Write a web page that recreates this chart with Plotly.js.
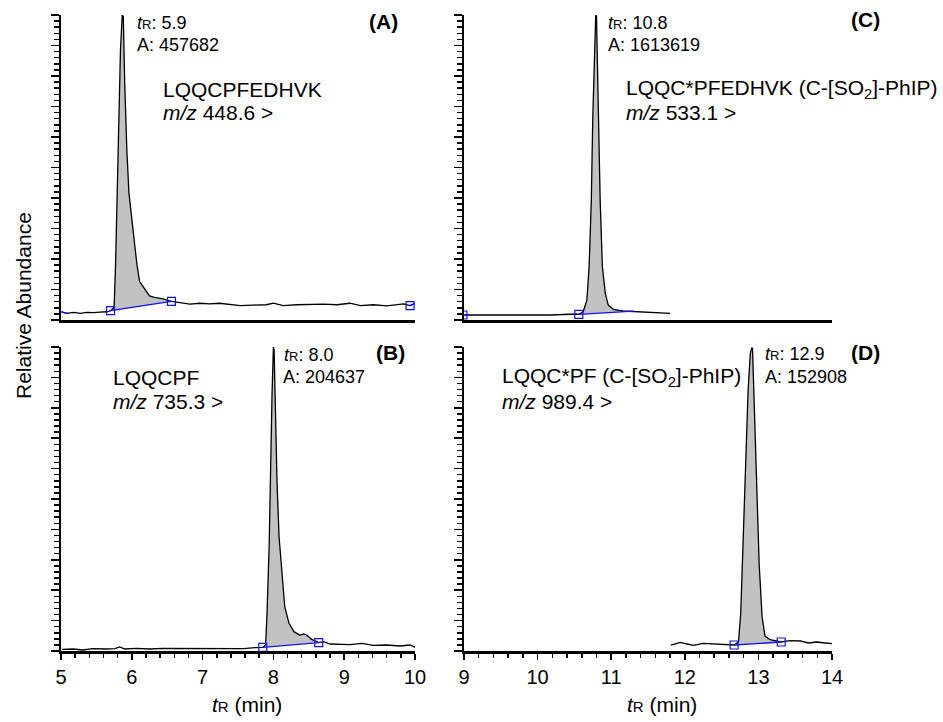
<!DOCTYPE html>
<html>
<head>
<meta charset="utf-8">
<script src="https://cdn.plot.ly/plotly-3.0.1.min.js"></script>
<style>html,body{margin:0;padding:0;background:#fff}#chart{width:943px;height:722px}</style>
</head>
<body>
<div id="chart"></div>
<script>
// ---------- Panel A: LQQCPFEDHVK, m/z 448.6 ----------
const A_time = [5.01,5.08,5.18,5.27,5.37,5.46,5.55,5.65,5.70,5.75,5.77,5.79,5.82,5.84,5.865,5.88,5.90,5.93,5.96,6.01,6.07,6.11,6.18,6.25,6.32,6.44,6.56,6.67,6.82,6.96,7.10,7.24,7.38,7.53,7.71,7.90,8.00,8.14,8.33,8.52,8.71,8.90,9.08,9.23,9.41,9.60,9.77,9.84,9.93,10.0];
const A_abund = [2.7,2.2,2.5,2.2,2.5,2.4,2.6,2.7,3.06,4.15,17.5,39.3,66.7,88.5,100,99.5,77.6,55.7,41.5,30.6,18.6,12.6,10.1,7.9,7.4,6.9,6.1,5.8,5.2,5.5,5.3,5.5,5.0,4.7,4.9,5.0,5.5,4.7,5.0,5.1,5.2,5.0,5.5,4.7,5.0,4.6,5.0,5.3,4.7,5.5];
const A_baseTime = [5.70,6.56];
const A_baseAbund = [3.06,6.1];
const A_baseMarks = [true,true];
const A_edgeTime = [[5.0,5.09],[9.93,10.0]];
const A_edgeAbund = [[2.7,2.2],[4.7,5.4]];
const A_edgeMarks = [false,true];

// ---------- Panel B: LQQCPF, m/z 735.3 ----------
const B_time = [5.02,5.17,5.31,5.45,5.64,5.76,5.83,5.90,6.07,6.25,6.44,6.63,6.82,7.01,7.20,7.39,7.58,7.74,7.85,7.89,7.91,7.94,7.96,7.98,8.00,8.01,8.03,8.05,8.08,8.12,8.16,8.22,8.29,8.37,8.43,8.47,8.54,8.64,8.71,8.80,8.94,9.08,9.25,9.41,9.60,9.79,9.93,10.0];
const B_abund = [0.55,0.66,0.33,0.77,0.66,0.77,1.32,0.66,0.88,0.66,0.88,0.88,0.66,0.88,0.66,0.88,0.77,1.10,1.21,1.97,12.4,34.3,61.7,83.6,100,98.9,78.1,56.2,37.6,24.5,14.6,9.1,6.36,5.26,5.59,5.26,3.84,2.74,3.07,2.30,2.19,2.08,2.52,1.86,1.97,1.64,1.97,1.21];
const B_baseTime = [7.85,8.64];
const B_baseAbund = [1.21,2.74];
const B_baseMarks = [true,true];
const B_edgeTime = [];
const B_edgeAbund = [];
const B_edgeMarks = [];

// ---------- Panel C: LQQC*PFEDHVK (C-[SO2]-PhIP), m/z 533.1 ----------
const C_time = [9.004,9.26,9.71,10.17,10.53,10.56,10.62,10.67,10.70,10.73,10.75,10.77,10.79,10.80,10.82,10.85,10.88,10.92,10.96,11.03,11.16,11.30,11.53,11.80];
const C_abund = [1.64,1.64,1.42,1.64,1.97,1.86,2.7,6.56,17.5,39.3,66.7,88.5,100,99.5,72.1,39.3,17.5,8.7,4.9,3.5,2.95,2.73,2.40,2.19];
const C_baseTime = [10.56,11.30];
const C_baseAbund = [1.86,2.9];
const C_baseMarks = [true,false];
const C_edgeTime = [[8.985,9.06]];
const C_edgeAbund = [[1.64,1.64]];
const C_edgeMarks = [true];

// ---------- Panel D: LQQC*PF (C-[SO2]-PhIP), m/z 989.4 ----------
const D_time = [11.81,11.94,12.03,12.12,12.25,12.43,12.57,12.67,12.73,12.76,12.79,12.83,12.86,12.89,12.91,12.92,12.94,12.98,13.01,13.05,13.09,13.16,13.31,13.43,13.57,13.68,13.79,13.91,14.0];
const D_abund = [1.97,2.85,2.30,1.86,2.52,2.30,2.08,1.97,3.07,12.4,34.3,61.7,85.8,97.8,99.8,99.5,83.6,56.2,28.8,11.3,4.8,3.73,2.96,3.4,3.29,2.63,2.96,2.63,2.41];
const D_baseTime = [12.67,13.31];
const D_baseAbund = [1.97,2.96];
const D_baseMarks = [true,true];
const D_edgeTime = [];
const D_edgeAbund = [];
const D_edgeMarks = [];

// ---------- Tick labels ----------
const leftTicks = [5,6,7,8,9,10];
const rightTicks = [9,10,11,12,13,14];

const FONT = 'Liberation Sans, Arial, Helvetica, sans-serif';
const BLUE = '#1010ff';

function panelTraces(time, abund, bT, bY, bM, eT, eY, eM, xa, ya) {
  const out = [];
  // shaded peak area between trace and baseline
  const fx = [bT[0]], fy = [bY[0]];
  for (let i = 0; i < time.length; i++) {
    if (time[i] > bT[0] && time[i] < bT[1]) { fx.push(time[i]); fy.push(abund[i]); }
  }
  fx.push(bT[1]); fy.push(bY[1]); fx.push(bT[0]); fy.push(bY[0]);
  out.push({x: fx, y: fy, xaxis: xa, yaxis: ya, type: 'scatter', mode: 'lines',
    fill: 'toself', fillcolor: '#c2c2c2', line: {width: 0, color: 'rgba(0,0,0,0)'}, hoverinfo: 'skip'});
  out.push({x: time, y: abund, xaxis: xa, yaxis: ya, type: 'scatter', mode: 'lines',
    line: {color: '#000', width: 1.3}});
  out.push({x: bT, y: bY, xaxis: xa, yaxis: ya, type: 'scatter', mode: 'lines+markers',
    line: {color: BLUE, width: 1.3},
    marker: {symbol: 'square-open', size: 8, color: BLUE, line: {width: 1.2, color: BLUE},
             opacity: bM.map(m => m ? 1 : 0)}});
  for (let k = 0; k < eT.length; k++) {
    out.push({x: eT[k], y: eY[k], xaxis: xa, yaxis: ya, type: 'scatter',
      mode: 'lines+markers', line: {color: BLUE, width: 1.3}, cliponaxis: true,
      marker: {symbol: 'square-open', size: 8, color: BLUE, line: {width: 1.2, color: BLUE},
               opacity: eM[k] ? [1, 0] : [0, 0]}});
  }
  return out;
}

const data = [].concat(
  panelTraces(A_time, A_abund, A_baseTime, A_baseAbund, A_baseMarks, A_edgeTime, A_edgeAbund, A_edgeMarks, 'x', 'y'),
  panelTraces(C_time, C_abund, C_baseTime, C_baseAbund, C_baseMarks, C_edgeTime, C_edgeAbund, C_edgeMarks, 'x2', 'y2'),
  panelTraces(B_time, B_abund, B_baseTime, B_baseAbund, B_baseMarks, B_edgeTime, B_edgeAbund, B_edgeMarks, 'x3', 'y3'),
  panelTraces(D_time, D_abund, D_baseTime, D_baseAbund, D_baseMarks, D_edgeTime, D_edgeAbund, D_edgeMarks, 'x4', 'y4')
);

const W = 943, H = 722;
const px = v => v / W;
const py = v => 1 - v / H;

function yAxis(dom, anchor) {
  return {domain: dom, anchor: anchor, range: [0, 100], showgrid: false, zeroline: false,
    showline: true, linecolor: '#000', linewidth: 2, showticklabels: false,
    ticks: 'outside', tick0: 0, dtick: 10, ticklen: 8, tickwidth: 1.5, tickcolor: '#000',
    minor: {ticks: 'outside', tick0: 0, dtick: 2, ticklen: 5, tickwidth: 1.5, tickcolor: '#000'},
    fixedrange: true};
}
function xTop(dom, anchor, r) {
  return {domain: dom, anchor: anchor, range: r, showgrid: false, zeroline: false,
    showline: true, linecolor: '#000', linewidth: 3, ticks: '', showticklabels: false, fixedrange: true};
}
function xBottom(dom, anchor, r, tv) {
  return {domain: dom, anchor: anchor, range: r, showgrid: false, zeroline: false,
    showline: true, linecolor: '#000', linewidth: 3,
    tickmode: 'array', tickvals: tv, ticktext: tv.map(String),
    ticks: 'outside', ticklen: 6, tickwidth: 1.5, tickcolor: '#000',
    minor: {ticks: 'outside', dtick: 0.2, tick0: 0, ticklen: 4, tickwidth: 1.5, tickcolor: '#000'},
    tickfont: {family: FONT, size: 20, color: '#000'}, fixedrange: true};
}

const domL = [px(61), px(415)], domR = [px(464), px(832)];
const domTop = [py(320), py(15)], domBot = [py(651), py(347)];

function ann(text, x, y, size, anchor, extra) {
  return Object.assign({text: text, x: px(x), y: py(y), xref: 'paper', yref: 'paper',
    xanchor: anchor || 'left', yanchor: 'middle', showarrow: false,
    font: {family: FONT, size: size, color: '#000'}}, extra || {});
}
const tR = s => '<i>t</i><span style="font-size:' + s + 'px">R</span>';

const annotations = [
  // Panel A
  ann(tR(13) + ': 5.9', 135, 23, 18), ann('A: 457682', 135, 45, 18),
  ann('LQQCPFEDHVK', 160.7, 89, 21), ann('<i>m/z</i> 448.6 >', 160.7, 112.5, 21),
  ann('<b>(A)</b>', 400, 21.5, 21, 'right'),
  // Panel C
  ann(tR(13) + ': 10.8', 605.7, 23, 18), ann('A: 1613619', 605.7, 45, 18),
  ann('LQQC*PFEDHVK (C-[SO<sub>2</sub>]-PhIP)', 624, 89, 21), ann('<i>m/z</i> 533.1 >', 624, 112.5, 21),
  ann('<b>(C)</b>', 881.7, 20, 21, 'right'),
  // Panel B
  ann(tR(13) + ': 8.0', 282, 355, 18), ann('A: 204637', 281, 376.7, 18),
  ann('LQQCPF', 111, 377.5, 21), ann('<i>m/z</i> 735.3 >', 111, 401.5, 21),
  ann('<b>(B)</b>', 406.7, 352, 21, 'right'),
  // Panel D
  ann(tR(13) + ': 12.9', 763, 353.7, 18), ann('A: 152908', 762.7, 377, 18),
  ann('LQQC*PF (C-[SO<sub>2</sub>]-PhIP)', 500, 377, 21), ann('<i>m/z</i> 989.4 >', 500, 401, 21),
  ann('<b>(D)</b>', 881.7, 352, 21, 'right'),
  // axis titles
  ann(tR(15) + ' (min)', 247, 704, 21, 'center'),
  ann(tR(15) + ' (min)', 662, 704, 21, 'center'),
  ann('Relative Abundance', 24, 306, 21, 'center', {textangle: -90})
];

const layout = {
  width: W, height: H, margin: {l: 0, r: 0, t: 0, b: 0},
  paper_bgcolor: '#fff', plot_bgcolor: '#fff', showlegend: false,
  font: {family: FONT, color: '#000'},
  xaxis: xTop(domL, 'y', [5, 10]),
  yaxis: yAxis(domTop, 'x'),
  xaxis2: xTop(domR, 'y2', [9, 14]),
  yaxis2: yAxis(domTop, 'x2'),
  xaxis3: xBottom(domL, 'y3', [5, 10], leftTicks),
  yaxis3: yAxis(domBot, 'x3'),
  xaxis4: xBottom(domR, 'y4', [9, 14], rightTicks),
  yaxis4: yAxis(domBot, 'x4'),
  annotations: annotations
};

Plotly.newPlot('chart', data, layout, {staticPlot: true, displayModeBar: false});
</script>
</body>
</html>
